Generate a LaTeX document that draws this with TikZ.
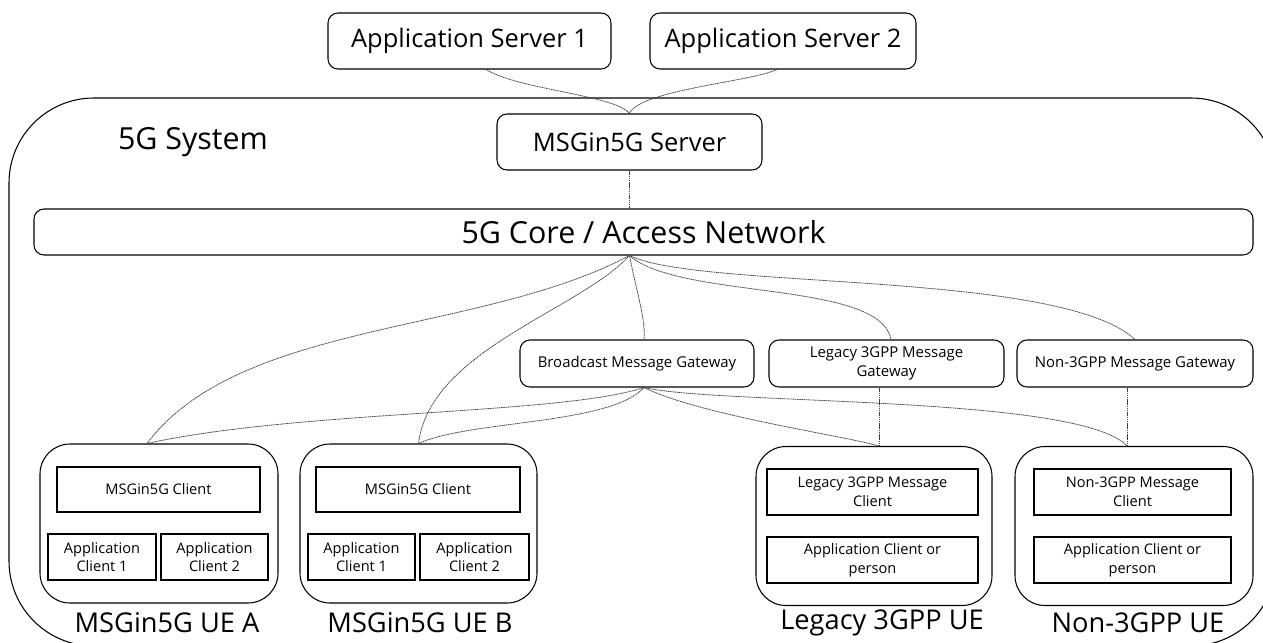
\documentclass[tikz,border=0pt]{standalone}
\usepackage{fontspec}
\setmainfont{Open Sans}
\usetikzlibrary{calc}
\tikzset{
  sz/.style 2 args={minimum width=#1*0.02cm, minimum height=#2*0.02cm, inner sep=0pt},
  rbox/.style={draw=black, line width=0.6pt, rounded corners=0.2cm, align=center},
  ibox/.style={draw=black, line width=0.6pt, align=center, font=\fontsize{8.3}{10.5}\selectfont},
  uebox/.style={draw=black, line width=0.6pt, rounded corners=0.6cm},
  gwfont/.style={font=\fontsize{8.5}{10.5}\selectfont},
  bigfont/.style={font=\fontsize{14.5}{17}\selectfont},
  hugefont/.style={font=\fontsize{17.3}{20}\selectfont},
  uelabel/.style={font=\fontsize{15.5}{18}\selectfont},
  link/.style={draw=black!75, line width=0.45pt, dash pattern=on 0.7pt off 0.35pt},
}
\begin{document}
\begin{tikzpicture}[x=0.02cm,y=-0.02cm]
\useasboundingbox (0,0) rectangle (1263,642);
\clip (0,0) rectangle (1263,642);
% outer 5G system
\node[draw=black, line width=0.6pt, rounded corners=1.7cm, sz={1267}{548}] (sys) at (642.5,372) {};
\node[hugefont] (systxt) at (193,142) {5G System};
% servers
\node[rbox, bigfont, sz={283}{56}] (as1) at (469.5,41) {Application Server 1};
\node[rbox, bigfont, sz={266}{56}] (as2) at (783,41) {Application Server 2};
\node[rbox, bigfont, sz={265}{56}] (srv) at (629.5,142) {MSGin5G Server};
\node[rbox, hugefont, sz={1219}{46}] (core) at (643.5,232) {5G Core / Access Network};
% gateways
\node[rbox, gwfont, sz={234}{47}] (bgw) at (637,363.5) {Broadcast Message Gateway};
\node[rbox, gwfont, sz={235}{47}] (lgw) at (886.5,363.5) {Legacy 3GPP Message\\Gateway};
\node[rbox, gwfont, sz={236}{47}] (ngw) at (1135,363.5) {Non-3GPP Message Gateway};
% UE A
\node[uebox, sz={238}{159}] (uea) at (159,523.5) {};
\node[ibox, sz={203}{45}] (ca) at (158.5,489.5) {MSGin5G Client};
\node[ibox, sz={108}{46}] (a1) at (102,557) {Application\\Client 1};
\node[ibox, sz={107}{46}] (a2) at (214.5,557) {Application\\Client 2};
\node[uelabel] (la) at (167,623) {MSGin5G UE A};
% UE B
\node[uebox, sz={237}{159}] (ueb) at (418.5,523.5) {};
\node[ibox, sz={204}{45}] (cb) at (418,489.5) {MSGin5G Client};
\node[ibox, sz={107}{46}] (b1) at (361.5,557) {Application\\Client 1};
\node[ibox, sz={109}{46}] (b2) at (474.5,557) {Application\\Client 2};
\node[uelabel] (lb) at (420,623) {MSGin5G UE B};
% Legacy UE
\node[uebox, sz={236}{159}] (lue) at (874,526) {};
\node[ibox, sz={211}{46}] (lc) at (872.5,492) {Legacy 3GPP Message\\Client};
\node[ibox, sz={211}{46}] (lp) at (872.5,560) {Application Client or\\person};
\node[uelabel] (ll) at (882,623) {Legacy 3GPP UE};
% Non-3GPP UE
\node[uebox, sz={238}{159}] (nue) at (1134,526) {};
\node[ibox, sz={197}{46}] (nc) at (1132.5,492) {Non-3GPP Message\\Client};
\node[ibox, sz={197}{46}] (np) at (1132.5,560) {Application Client or\\person};
\node[uelabel] (nl) at (1138,623) {Non-3GPP UE};
% anchor coordinates
\coordinate (a1b) at ([xshift=0.33cm]as1.south);
\coordinate (a2b) at ([xshift=-0.12cm]as2.south);
\coordinate (hub) at (srv.south |- core.south);
\coordinate (ua) at ([xshift=-0.24cm]uea.north);
\coordinate (ub) at (ueb.north);
\coordinate (bt) at ([xshift=0.14cm]bgw.north);
\coordinate (bb) at ([xshift=0.14cm]bgw.south);
\coordinate (lt) at ([xshift=0.09cm]lgw.north);
\coordinate (lj) at ([xshift=0.1cm]lue.north);
\coordinate (nj) at ([xshift=-0.14cm]nue.north);
% connectors
\draw[link] (a1b) .. controls (520,90) and (615,95) .. (srv.north);
\draw[link] (a2b) .. controls (750,82) and (640,90) .. (srv.north);
\draw[link] (srv.south) -- (srv.south |- core.north);
\draw[link] (hub) .. controls (480,335) and (240,320) .. (ua);
\draw[link] (hub) .. controls (580,310) and (430,350) .. (ub);
\draw[link] (hub) .. controls (636,290) and (646,320) .. (bt);
\draw[link] (hub) .. controls (680,300) and (880,280) .. (lt);
\draw[link] (hub) .. controls (700,290) and (1060,270) .. (ngw.north);
\draw[link] (bb) .. controls (560,415) and (300,410) .. (ua);
\draw[link] (bb) .. controls (610,425) and (470,420) .. (ub);
\draw[link] (bb) .. controls (700,415) and (840,435) .. (lj);
\draw[link] (bb) .. controls (720,405) and (1080,395) .. (nj);
\draw[link] (lj |- lgw.south) -- (lj);
\draw[link] (nj |- ngw.south) -- (nj);
\end{tikzpicture}
\end{document}
